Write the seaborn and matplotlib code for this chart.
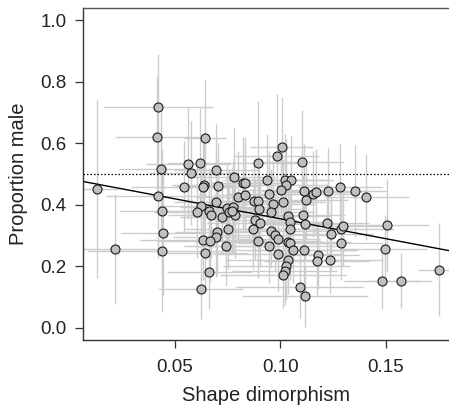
import numpy as np
import pandas as pd
import matplotlib
matplotlib.use("Agg")
import matplotlib.pyplot as plt
import seaborn as sns

# ---- data ----
shape_dimorphism = [
    0.0129, 0.0216, 0.0422, 0.0415, 0.0434, 0.0422, 0.0438, 0.0442, 0.0437,
    0.0644, 0.0563, 0.0617, 0.0576, 0.0694, 0.0895, 0.0543, 0.0637, 0.0631,
    0.0705, 0.0780, 0.0824, 0.0832, 0.0800, 0.0832, 0.0877, 0.0895, 0.0694,
    0.1007, 0.0982, 0.1102, 0.0935, 0.1023, 0.1050, 0.1026, 0.1001, 0.0947,
    0.1113, 0.1155, 0.1167, 0.1224, 0.1284, 0.1356, 0.1120, 0.0966, 0.1011,
    0.1408, 0.0626, 0.0603, 0.0663, 0.0669, 0.0724, 0.0745, 0.0757, 0.0776,
    0.0784, 0.0773, 0.0898, 0.0879, 0.0903, 0.0871, 0.0750, 0.0698, 0.0693,
    0.0634, 0.0666, 0.0743, 0.0892, 0.0644, 0.0663, 0.0622, 0.0958, 0.1034,
    0.1045, 0.1045, 0.1108, 0.1116, 0.1219, 0.1238, 0.1288, 0.1298, 0.1287,
    0.0958, 0.0974, 0.0990, 0.0945, 0.1037, 0.1048, 0.1061, 0.1113, 0.0990,
    0.1037, 0.1029, 0.1021, 0.1013, 0.1179, 0.1172, 0.1235, 0.1092, 0.1116,
    0.1505, 0.1495, 0.1484, 0.1570, 0.1751,
]
proportion_male = [
    0.452, 0.256, 0.719, 0.620, 0.517, 0.427, 0.379, 0.307, 0.251,
    0.616, 0.534, 0.536, 0.504, 0.512, 0.536, 0.457, 0.464, 0.457,
    0.460, 0.490, 0.471, 0.471, 0.424, 0.433, 0.413, 0.413, 0.410,
    0.589, 0.560, 0.538, 0.480, 0.480, 0.482, 0.463, 0.447, 0.434,
    0.446, 0.435, 0.441, 0.446, 0.457, 0.445, 0.417, 0.404, 0.408,
    0.424, 0.395, 0.376, 0.379, 0.368, 0.359, 0.390, 0.376, 0.393,
    0.368, 0.379, 0.387, 0.350, 0.339, 0.321, 0.321, 0.311, 0.295,
    0.284, 0.281, 0.265, 0.281, 0.243, 0.182, 0.127, 0.376, 0.363,
    0.343, 0.322, 0.366, 0.336, 0.341, 0.305, 0.322, 0.330, 0.276,
    0.314, 0.301, 0.289, 0.267, 0.278, 0.276, 0.254, 0.254, 0.241,
    0.221, 0.200, 0.183, 0.173, 0.235, 0.218, 0.219, 0.133, 0.102,
    0.333, 0.257, 0.151, 0.153, 0.189,
]
shape_err = [
    0.010, 0.020, 0.026, 0.020, 0.020, 0.025, 0.020, 0.020, 0.035,
    0.010, 0.020, 0.015, 0.020, 0.020, 0.020, 0.025, 0.015, 0.015,
    0.020, 0.020, 0.015, 0.020, 0.020, 0.015, 0.015, 0.020, 0.020,
    0.015, 0.020, 0.020, 0.020, 0.020, 0.020, 0.020, 0.020, 0.020,
    0.020, 0.020, 0.020, 0.020, 0.020, 0.015, 0.020, 0.020, 0.020,
    0.020, 0.020, 0.020, 0.020, 0.020, 0.020, 0.015, 0.020, 0.025,
    0.020, 0.015, 0.020, 0.020, 0.025, 0.020, 0.020, 0.020, 0.020,
    0.030, 0.025, 0.020, 0.030, 0.020, 0.020, 0.020, 0.020, 0.020,
    0.020, 0.020, 0.020, 0.020, 0.020, 0.020, 0.025, 0.020, 0.020,
    0.030, 0.025, 0.020, 0.035, 0.030, 0.025, 0.030, 0.025, 0.030,
    0.030, 0.030, 0.025, 0.030, 0.020, 0.025, 0.025, 0.030, 0.030,
    0.020, 0.020, 0.018, 0.015, 0.010,
]
prop_err = [
    0.290, 0.180, 0.170, 0.200, 0.200, 0.200, 0.200, 0.200, 0.200,
    0.190, 0.180, 0.180, 0.170, 0.150, 0.200, 0.150, 0.170, 0.170,
    0.140, 0.160, 0.150, 0.150, 0.150, 0.120, 0.120, 0.140, 0.150,
    0.160, 0.200, 0.170, 0.150, 0.150, 0.140, 0.150, 0.120, 0.140,
    0.150, 0.140, 0.140, 0.140, 0.140, 0.150, 0.130, 0.140, 0.140,
    0.140, 0.150, 0.150, 0.140, 0.140, 0.120, 0.140, 0.140, 0.150,
    0.140, 0.140, 0.140, 0.130, 0.140, 0.130, 0.130, 0.140, 0.130,
    0.130, 0.130, 0.130, 0.120, 0.120, 0.120, 0.100, 0.140, 0.130,
    0.130, 0.120, 0.130, 0.120, 0.130, 0.120, 0.120, 0.130, 0.120,
    0.120, 0.120, 0.120, 0.120, 0.120, 0.120, 0.110, 0.120, 0.120,
    0.110, 0.110, 0.110, 0.110, 0.110, 0.110, 0.110, 0.100, 0.100,
    0.150, 0.110, 0.090, 0.090, 0.150,
]
fit_intercept = 0.484
fit_slope = -1.296
reference_level = 0.5

x_ticks = [0.05, 0.10, 0.15]
x_ticklabels = ["0.05", "0.10", "0.15"]
y_ticks = [0.0, 0.2, 0.4, 0.6, 0.8, 1.0]
y_ticklabels = ["0.0", "0.2", "0.4", "0.6", "0.8", "1.0"]

df = pd.DataFrame({
    "Shape dimorphism": shape_dimorphism,
    "Proportion male": proportion_male,
    "xerr": shape_err,
    "yerr": prop_err,
})

sns.set_style("ticks")
plt.rcParams["font.family"] = ["Liberation Sans", "DejaVu Sans"]

fig = plt.figure(figsize=(4.49, 4.05), dpi=100)
ax = fig.add_axes([83 / 449, 1 - 340 / 405, (449 - 83) / 449, (340 - 8) / 405])

ax.errorbar(df["Shape dimorphism"], df["Proportion male"],
            xerr=df["xerr"], yerr=df["yerr"], fmt="none",
            ecolor="#cccccc", elinewidth=1.0, capsize=0, zorder=1)

ax.axhline(reference_level, color="black", linestyle=(0, (1.2, 1.6)),
           linewidth=0.9, zorder=2)
ax.axline((0.0, fit_intercept), slope=fit_slope, color="black",
          linewidth=1.0, zorder=2)

sns.scatterplot(data=df, x="Shape dimorphism", y="Proportion male", ax=ax,
                s=42, color="#c0c0c0", edgecolor="#1a1a1a", linewidth=0.8,
                zorder=3, legend=False)

ax.set_xlim(0.0064, 0.18)
ax.set_ylim(-0.04, 1.04)
ax.set_xticks(x_ticks)
ax.set_xticklabels(x_ticklabels)
ax.set_yticks(y_ticks)
ax.set_yticklabels(y_ticklabels)

for side in ["left", "bottom", "top"]:
    ax.spines[side].set_color("#333333")
    ax.spines[side].set_linewidth(1.0)
ax.spines["right"].set_visible(False)
ax.spines["top"].set_color("#555555")

ax.tick_params(axis="both", direction="out", length=6, width=0.9,
               color="#333333", labelsize=13.5, labelcolor="#222222", pad=6)
ax.tick_params(axis="x", pad=8)
ax.set_xlabel("Shape dimorphism", fontsize=14.5, color="#222222", labelpad=7)
ax.set_ylabel("Proportion male", fontsize=14.5, color="#222222", labelpad=9)

fig.savefig("out.png", dpi=100)
